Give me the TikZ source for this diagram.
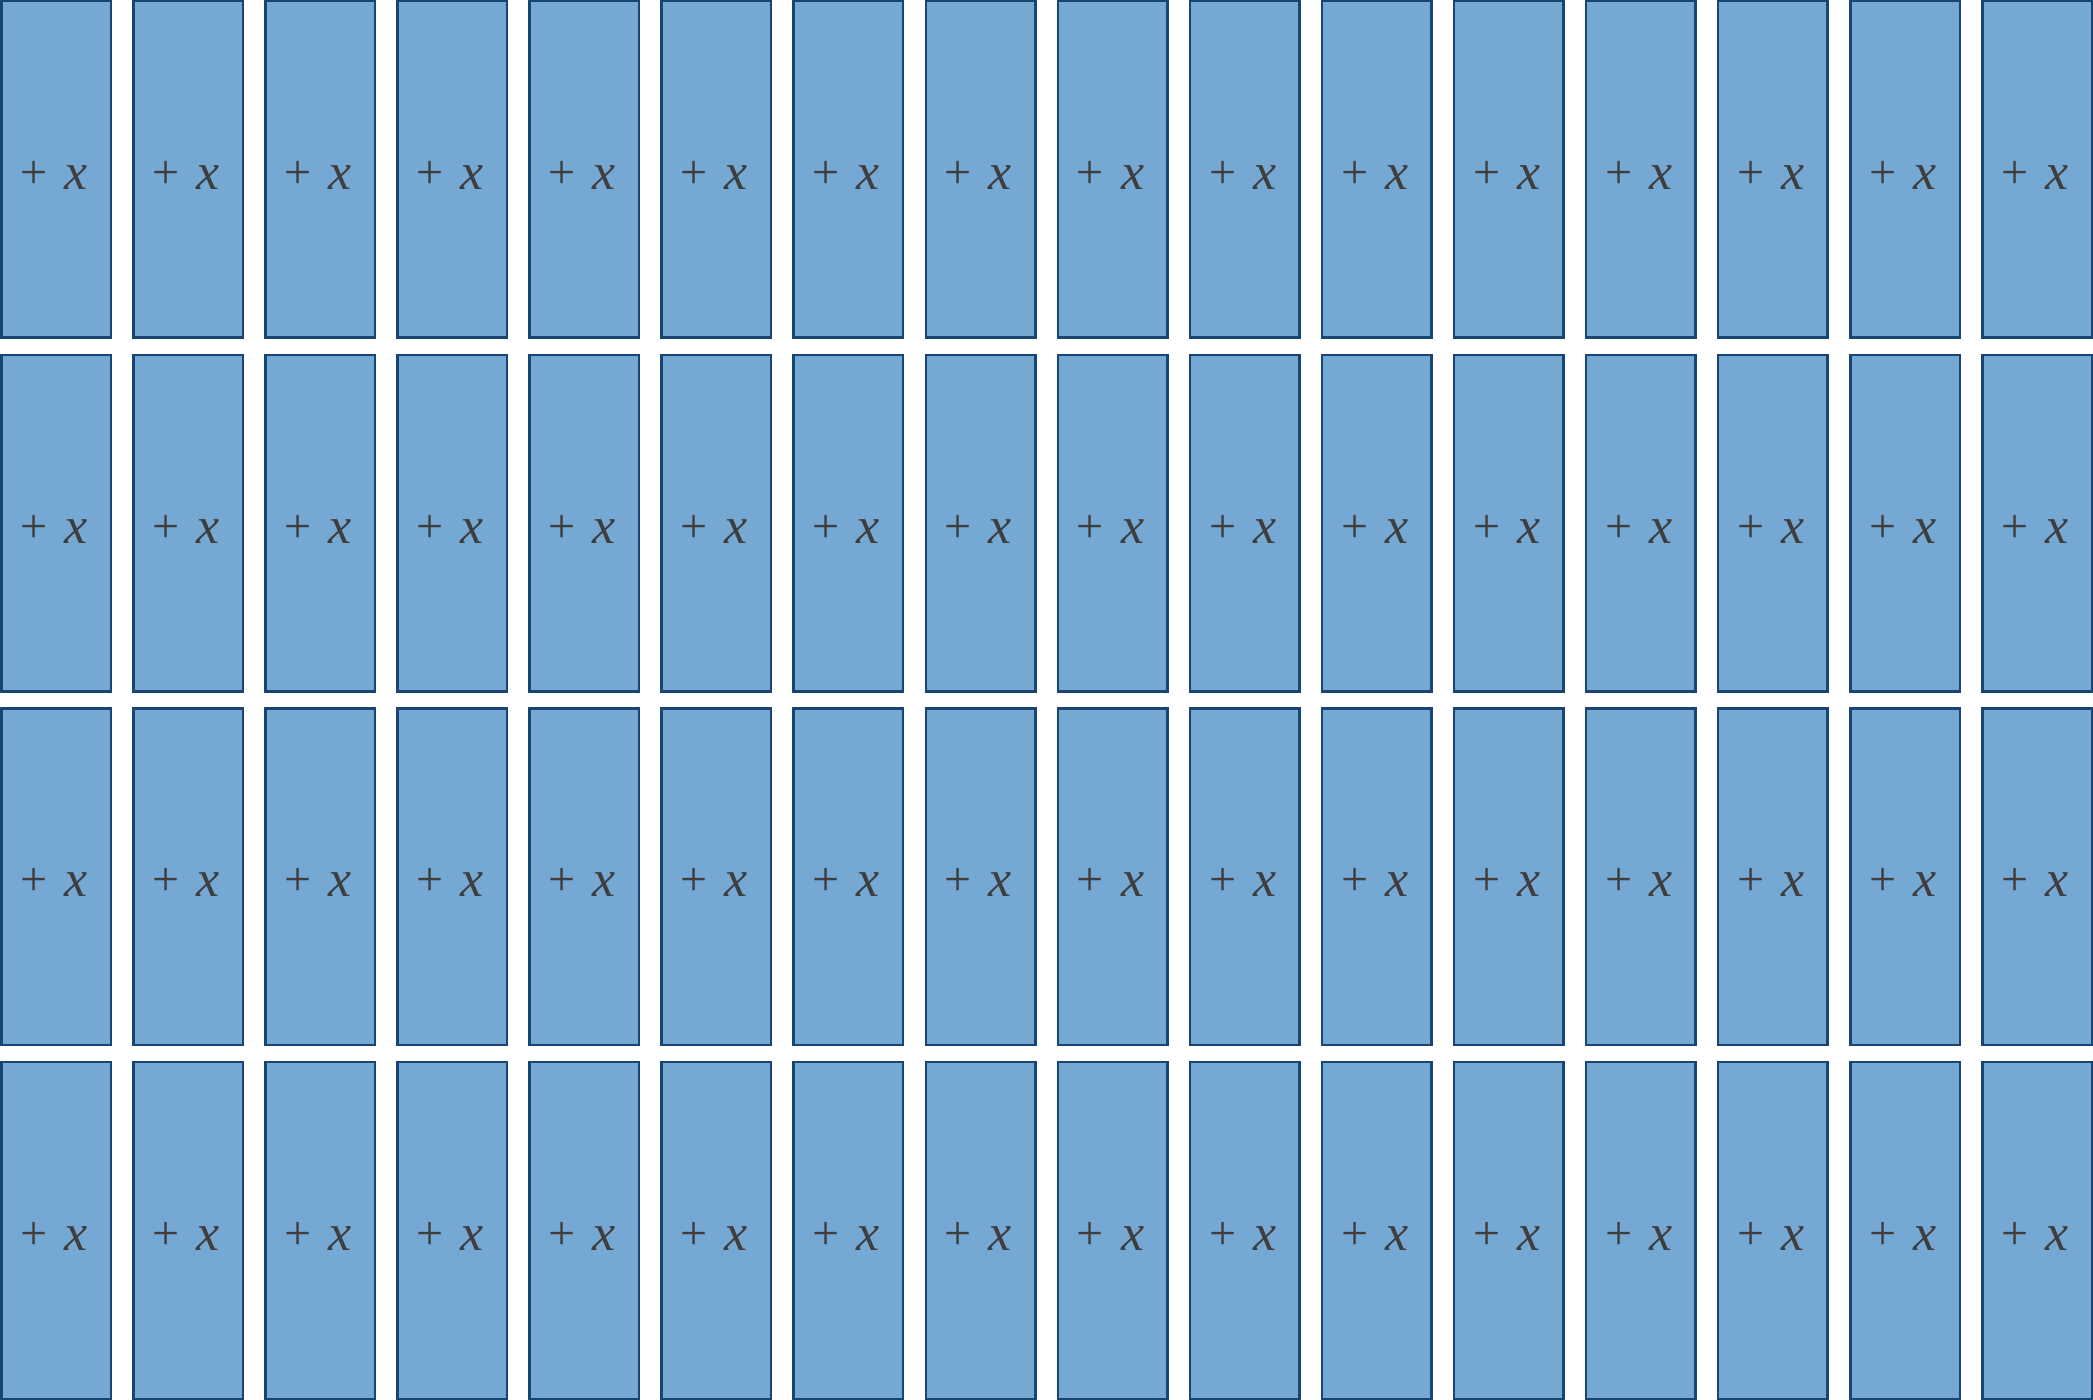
\documentclass[tikz,border=0pt]{standalone}
\usepackage{fontspec}
\setmainfont{Liberation Serif}
\usepackage{tikz}
\usepackage{xcolor}
\definecolor{tilefill}{RGB}{118,168,212}
\definecolor{tileedge}{RGB}{24,69,114}
\definecolor{tiletext}{RGB}{62,62,62}
\newcommand{\plusx}{\raisebox{0.5pt}{\fontsize{24}{24}\selectfont +}\hspace{8.5pt}\textit{x}}

\begin{document}
\begin{tikzpicture}[x=0.5pt,y=0.5pt,
    xtile/.style={draw=tileedge,fill=tilefill,line width=1.25pt,
      minimum width=54.75pt,minimum height=168.25pt,inner sep=0pt},
    xlabel/.style={text=tiletext,font=\fontsize{26}{26}\selectfont,inner sep=0pt}]
    \useasboundingbox (0,0) rectangle (2093,1400);
    % 4 rows of 16 tiles, each reads + x
    \foreach \r in {0,...,3} {
      \foreach \c in {0,...,15} {
        \node[xtile] (tile-\r-\c) at ({56+\c*132.07},{1400-169.5-\r*353.67}) {};
        \node[xlabel] (lab-\r-\c) at ([xshift=-1pt,yshift=-3pt]tile-\r-\c.center) {\plusx};
      }
    }
  \end{tikzpicture}
\end{document}
